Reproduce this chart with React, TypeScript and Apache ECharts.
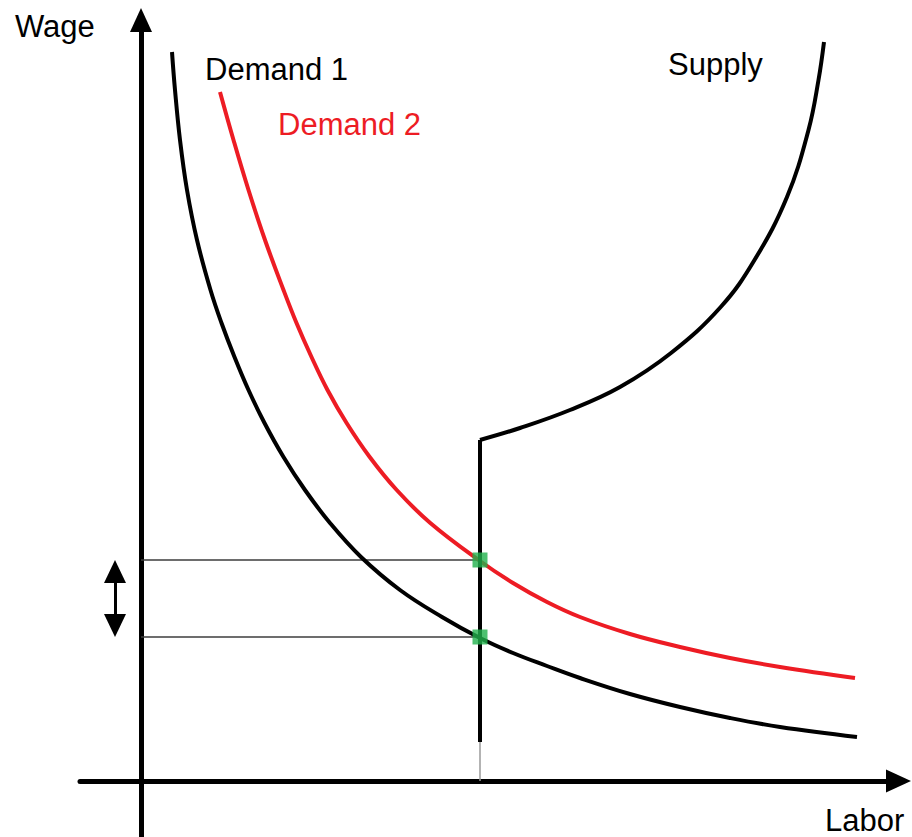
import React, { useEffect, useRef } from "react";
import * as echarts from "echarts";

// Coordinates: labor (x) and wage (y), origin at the axes' crossing.
const demand1: [number, number][] = [
  [31, 729], [34, 691], [39, 641], [46, 591], [56, 541], [69.5, 491], [80.5, 458],
  [93.5, 424], [107.5, 391], [123.5, 358], [142.5, 324], [164, 291], [189, 258],
  [220, 224], [259, 191], [301, 164], [339, 143], [372, 128], [406, 115],
  [439, 103], [489, 87], [539, 74], [589, 63], [639, 54], [716, 44],
];
const demand2: [number, number][] = [
  [79, 689], [92.5, 641], [107.5, 591], [124, 541], [142.5, 491], [155.5, 458],
  [170.5, 424], [186.5, 391], [205.6, 358], [228.7, 324], [255.7, 291], [289.3, 258],
  [339, 220], [372, 198], [406, 179], [439, 164], [489, 147], [539, 134],
  [589, 123], [639, 114], [714, 103],
];
const supplyVertical: [number, number][] = [[339, 39], [339, 341]];
const supplyCurve: [number, number][] = [
  [339, 341], [379, 353], [429, 371], [479, 394], [530, 428], [579.7, 474],
  [613.5, 521], [646, 584], [667.5, 651], [677.5, 701], [683, 739],
];
const equilibria: [number, number][] = [[339, 221], [339, 144]];
const guideHigh: [number, number][] = [[0, 221], [339, 221]];
const guideLow: [number, number][] = [[0, 144], [339, 144]];
const guideBase: [number, number][] = [[339, 0], [339, 39]];
const wageGapArrow: [number, number][] = [[-26, 209.5], [-26, 155.5]];
const labels = ["Wage", "Labor", "Demand 1", "Demand 2", "Supply"];

const FONT = "'Liberation Sans', Arial, sans-serif";

export default function App() {
  const ref = useRef<HTMLDivElement>(null);
  useEffect(() => {
    if (!ref.current) return;
    const chart = echarts.init(ref.current, null, { renderer: "svg" });
    const curve = (data: [number, number][], color: string, smooth: number | boolean, width = 4, z = 3) => ({
      type: "line",
      data,
      smooth,
      showSymbol: false,
      silent: true,
      z,
      lineStyle: { color, width },
    });
    const text = (t: string, x: number, y: number, color = "#000") => ({
      type: "text",
      x,
      y,
      silent: true,
      style: { text: t, fill: color, font: `31px ${FONT}`, verticalAlign: "middle", align: "left" },
    });
    chart.setOption({
      animation: false,
      backgroundColor: "#fff",
      grid: { left: 80, right: 13.5, top: 20, bottom: 0, containLabel: false, outerBoundsMode: "none" },
      xAxis: {
        type: "value",
        min: -61,
        max: 757.5,
        axisLabel: { show: false },
        axisTick: { show: false },
        splitLine: { show: false },
        axisLine: {
          onZero: true,
          symbol: ["none", "triangle"],
          symbolSize: [23, 25],
          lineStyle: { color: "#000", width: 5 },
        },
      },
      yAxis: {
        type: "value",
        min: -56,
        max: 761,
        axisLabel: { show: false },
        axisTick: { show: false },
        splitLine: { show: false },
        axisLine: {
          onZero: true,
          symbol: ["none", "triangle"],
          symbolSize: [22, 24],
          lineStyle: { color: "#000", width: 5 },
        },
      },
      series: [
        {
          ...curve(guideHigh, "#3c3c3c", false, 1.5, 1),
          markLine: {
            silent: true,
            symbol: ["triangle", "triangle"],
            symbolSize: [22, 23],
            label: { show: false },
            lineStyle: { color: "#000", width: 3, type: "solid" },
            data: [[{ coord: wageGapArrow[0] }, { coord: wageGapArrow[1] }]],
          },
        },
        curve(guideLow, "#3c3c3c", false, 1.5, 1),
        curve(guideBase, "#9a9a9a", false, 1.5, 1),
        curve(demand1, "#000", 0.4),
        curve(demand2, "#ED1C24", 0.4),
        curve(supplyVertical, "#000", false),
        curve(supplyCurve, "#000", 0.4),
        {
          type: "scatter",
          data: equilibria,
          symbol: "rect",
          symbolSize: 15,
          silent: true,
          z: 5,
          itemStyle: { color: "#22B14C" },
        },
      ],
      graphic: [
        text(labels[0], 15, 26),
        text(labels[1], 825, 820),
        text(labels[2], 205, 69),
        text(labels[3], 278, 124, "#ED1C24"),
        text(labels[4], 668, 64),
      ],
    });
    return () => chart.dispose();
  }, []);
  return <div ref={ref} style={{ position: "fixed", left: 0, top: 0, width: 912, height: 837 }} />;
}
